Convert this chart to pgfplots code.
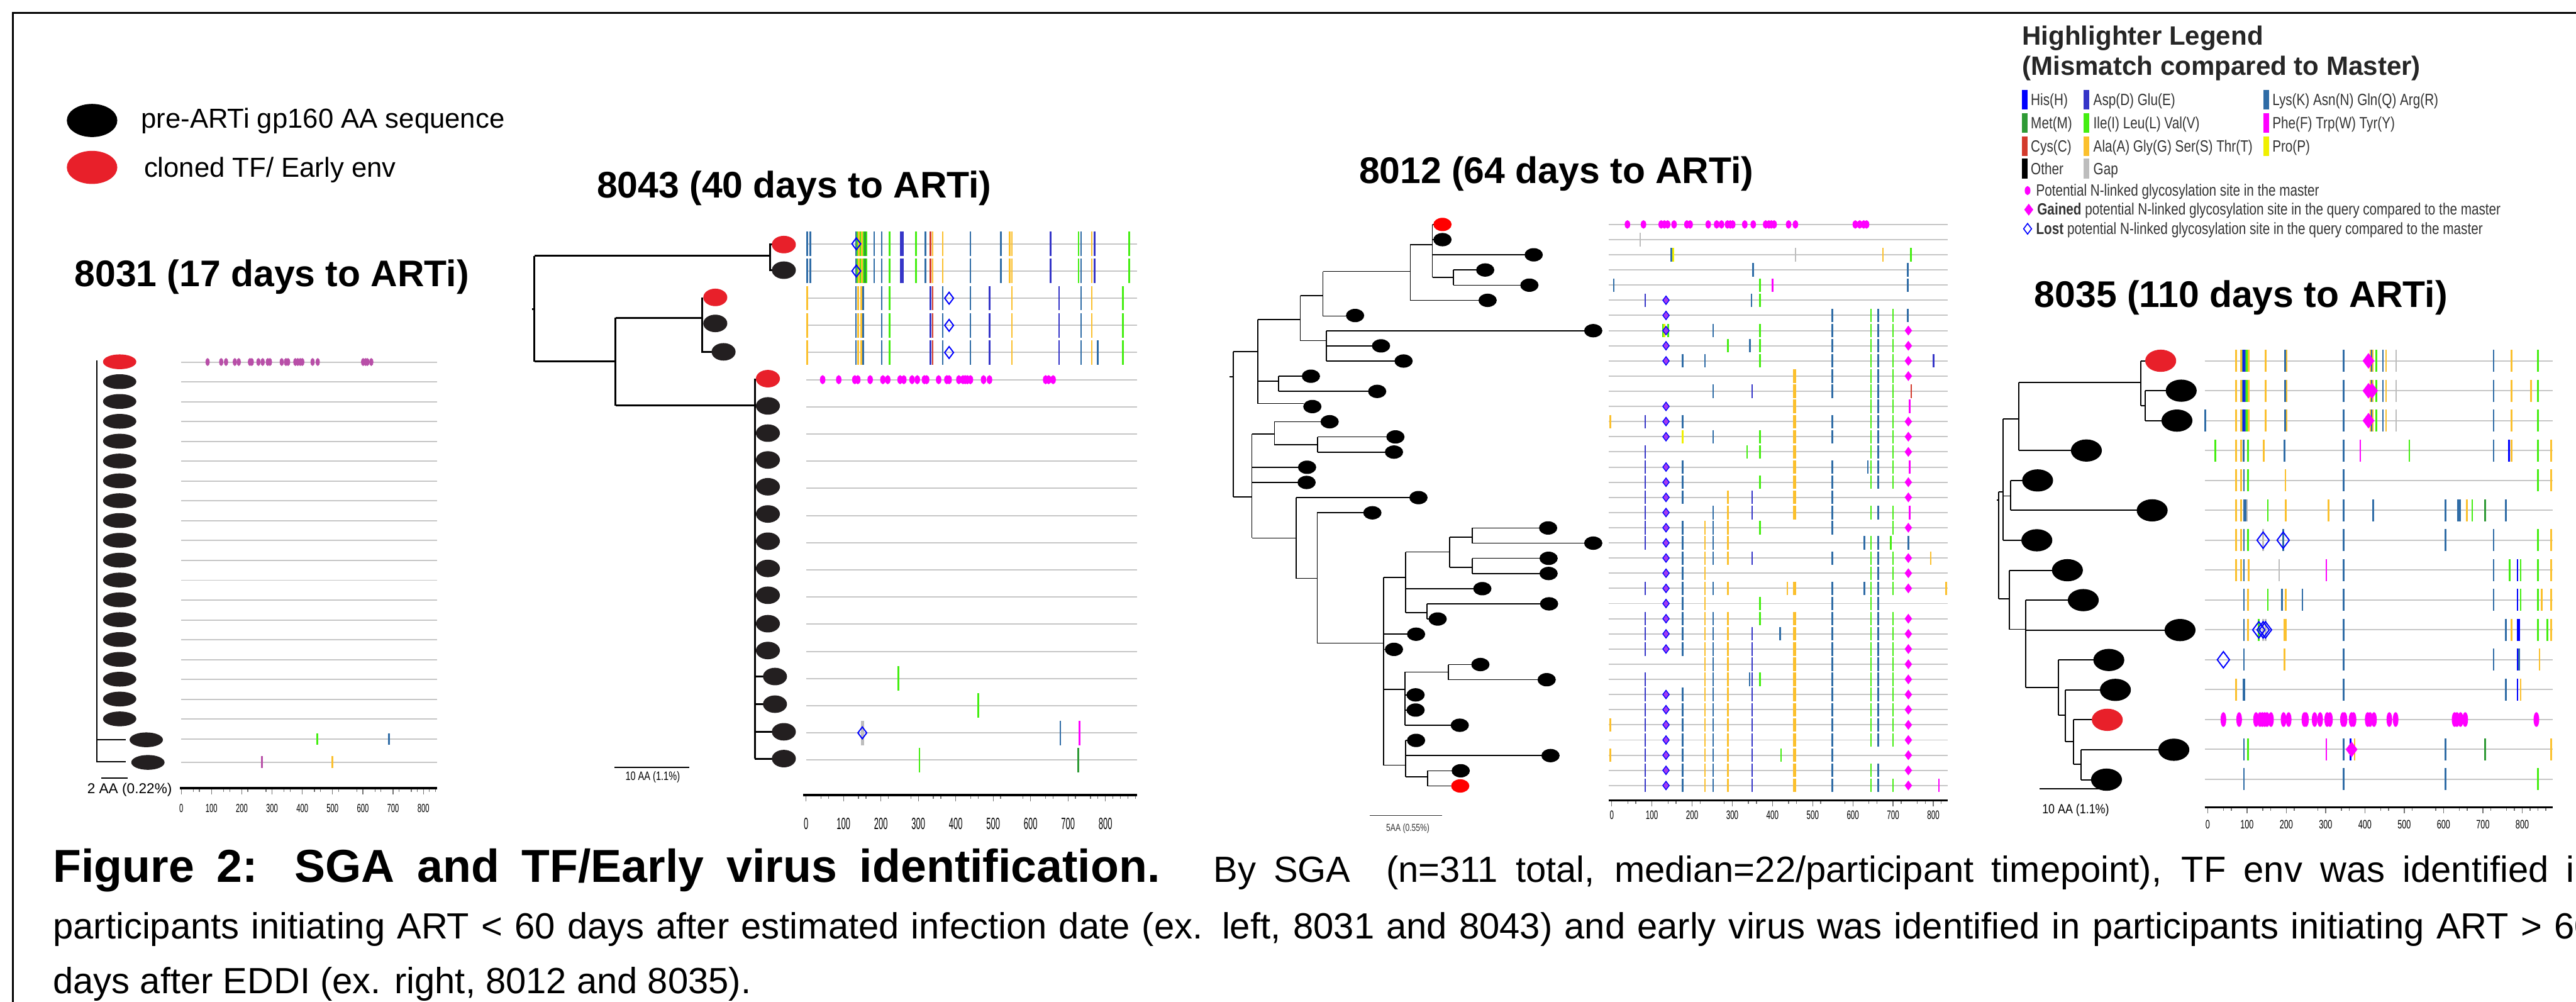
\documentclass[border=0pt]{standalone}
\usepackage{pgfplots}
\pgfplotsset{compat=1.18}
\usepackage{fontspec}
\setmainfont{Liberation Sans}
\usepackage{graphicx}
\definecolor{his}{HTML}{0000FF}
\definecolor{asp}{HTML}{3535C8}
\definecolor{lys}{HTML}{2F6CA6}
\definecolor{met}{HTML}{2E9A35}
\definecolor{ilv}{HTML}{44EE11}
\definecolor{fwy}{HTML}{FF00FF}
\definecolor{cys}{HTML}{D33A2C}
\definecolor{agst}{HTML}{FBC02D}
\definecolor{pro}{HTML}{F0F000}
\definecolor{gapc}{HTML}{BDBDBD}
\definecolor{seqgray}{HTML}{C6C6C6}
\definecolor{tfred}{HTML}{E8202A}
\definecolor{nodeblk}{HTML}{231F20}
\definecolor{glyc31}{HTML}{B84FA8}
\definecolor{dia}{HTML}{A23BF0}
\pgfplotsset{
 ov/.style={scale only axis, clip=false, hide axis, xmin=0, xmax=1568, ymin=0, ymax=1568, y dir=reverse, anchor=center},
 seq/.style={scale only axis, clip=false, anchor=center, y dir=reverse, axis line style={draw=none}, xtick=\empty, yticklabels={}, major tick length=0pt, minor tick length=0pt, ymajorgrids, grid style={draw=seqgray, line width=0.6pt}},
 tk/.style={scale only axis, clip=false, anchor=center, height=0.02cm, ymin=0, ymax=1, axis x line=bottom, axis y line=none, x axis line style={line width=1.2pt,-}, every outer x axis line/.append style={-}, every inner x axis line/.append style={-}, xtick={0,100,...,800}, minor xtick={40,60,140,160,220,280,340,360,440,460,520,580,640,660,720,760,780,820,840}, tick align=outside, major tick length=0.1cm, minor tick length=0.06cm, tick style={draw=black!55, line width=0.4pt}, ytick=\empty, /pgf/number format/assume math mode=true, xticklabel style={inner sep=0pt, anchor=north}},
 br/.style={black, line width=#1, unbounded coords=jump, mark=none, forget plot},
 myel/.style={only marks, mark=*, mark size=#1},
 mybar/.style={only marks, mark=|, mark size=#1, mark options={line width=0.8pt}},
}
\newcommand{\lgt}[1]{\scalebox{0.8}[1]{#1}}
\begin{document}
\begin{tikzpicture}
\clip (0,0) rectangle (44.48,17.29);
\fill[white] (0,0) rectangle (44.48,17.29);
% ===== main canvas (pixel coordinates) =====
\begin{axis}[scale only axis, clip=false, hide axis, at={(22.24cm,8.645cm)}, anchor=center, width=44.48cm, height=17.29cm, xmin=0, xmax=4448, ymin=0, ymax=1729, y dir=reverse]
\addplot[black, line width=0.85pt, mark=none] coordinates {(22,1740) (22,22) (4460,22)};
% top-left legend
\addplot[myel=12.2pt, mark options={yscale=0.65}, color=black] coordinates {(159,208)};
\addplot[myel=12.2pt, mark options={yscale=0.65}, color=tfred] coordinates {(159,289)};
\node[anchor=base west, inner sep=0pt, font=\fontsize{13.5}{16}\selectfont] at (axis cs:243,221) {pre-ARTi gp160 AA sequence};
\node[anchor=base west, inner sep=0pt, font=\fontsize{13.5}{16}\selectfont] at (axis cs:248,306) {cloned TF/ Early env};
% titles
\node[anchor=base west, inner sep=0pt, font=\fontsize{18.2}{22}\selectfont\bfseries] at (axis cs:128,495) {8031 (17 days to ARTi)};
\node[anchor=base west, inner sep=0pt, font=\fontsize{18.2}{22}\selectfont\bfseries] at (axis cs:1030,341) {8043 (40 days to ARTi)};
\node[anchor=base west, inner sep=0pt, font=\fontsize{18.2}{22}\selectfont\bfseries] at (axis cs:2346,317) {8012 (64 days to ARTi)};
\node[anchor=base west, inner sep=0pt, font=\fontsize{18.2}{22}\selectfont\bfseries] at (axis cs:3512,530) {8035 (110 days to ARTi)};
% highlighter legend
\node[anchor=base west, inner sep=0pt, font=\fontsize{13}{16}\selectfont\bfseries, text=black!85] at (axis cs:3491,78) {Highlighter Legend};
\node[anchor=base west, inner sep=0pt, font=\fontsize{13}{16}\selectfont\bfseries, text=black!85] at (axis cs:3491,130) {(Mismatch compared to Master)};
\addplot[mybar=4.8pt, mark options={line width=2.8pt}, color=his] coordinates {(3496,172)};
\addplot[mybar=4.8pt, mark options={line width=2.8pt}, color=met] coordinates {(3496,212)};
\addplot[mybar=4.8pt, mark options={line width=2.8pt}, color=cys] coordinates {(3496,252)};
\addplot[mybar=4.8pt, mark options={line width=2.8pt}, color=black] coordinates {(3496,291)};
\addplot[mybar=4.8pt, mark options={line width=2.8pt}, color=asp] coordinates {(3603,172)};
\addplot[mybar=4.8pt, mark options={line width=2.8pt}, color=ilv] coordinates {(3603,212)};
\addplot[mybar=4.8pt, mark options={line width=2.8pt}, color=agst] coordinates {(3603,252)};
\addplot[mybar=4.8pt, mark options={line width=2.8pt}, color=gapc] coordinates {(3603,291)};
\addplot[mybar=4.8pt, mark options={line width=2.8pt}, color=lys] coordinates {(3913,172)};
\addplot[mybar=4.8pt, mark options={line width=2.8pt}, color=fwy] coordinates {(3913,212)};
\addplot[mybar=4.8pt, mark options={line width=2.8pt}, color=pro] coordinates {(3913,252)};
\begin{scope}[every node/.style={anchor=base west, inner sep=0pt, font=\fontsize{8}{9}\selectfont, text=black!80}]
\node at (axis cs:3506,182) {\lgt{His(H)}};
\node at (axis cs:3506,222) {\lgt{Met(M)}};
\node at (axis cs:3506,262) {\lgt{Cys(C)}};
\node at (axis cs:3506,301) {\lgt{Other}};
\node at (axis cs:3614,182) {\lgt{Asp(D) Glu(E)}};
\node at (axis cs:3614,222) {\lgt{Ile(I) Leu(L) Val(V)}};
\node at (axis cs:3614,262) {\lgt{Ala(A) Gly(G) Ser(S) Thr(T)}};
\node at (axis cs:3614,301) {\lgt{Gap}};
\node at (axis cs:3923,182) {\lgt{Lys(K) Asn(N) Gln(Q) Arg(R)}};
\node at (axis cs:3923,222) {\lgt{Phe(F) Trp(W) Tyr(Y)}};
\node at (axis cs:3923,262) {\lgt{Pro(P)}};
\node at (axis cs:3515,338) {\lgt{Potential N-linked glycosylation site in the master}};
\node at (axis cs:3517,371) {\lgt{\textbf{Gained} potential N-linked glycosylation site in the query compared to the master}};
\node at (axis cs:3515,404) {\lgt{\textbf{Lost} potential N-linked glycosylation site in the query compared to the master}};
\end{scope}
\addplot[myel=2pt, mark options={xscale=0.6}, color=fwy] coordinates {(3501,329)};
\addplot[only marks, mark=diamond*, mark size=2.6pt, color=fwy] coordinates {(3503,362)};
\addplot[only marks, mark=diamond, mark size=2.6pt, color=his, mark options={line width=0.5pt}] coordinates {(3501,395)};
% scale bars
\addplot[black, line width=0.6pt, mark=none] coordinates {(175,1343) (221,1343)};
\node[anchor=base west, inner sep=0pt, font=\fontsize{7}{8}\selectfont] at (axis cs:150,1370) {2 AA (0.22\%)};
\addplot[black, line width=0.8pt, mark=none] coordinates {(1061,1325) (1190,1325)};
\node[anchor=center, inner sep=0pt, font=\fontsize{6}{7}\selectfont] at (axis cs:1127,1342) {\scalebox{0.75}[1]{10 AA (1.1\%)}};
\addplot[black!80, line width=0.4pt, mark=none] coordinates {(2365,1408) (2490,1408)};
\node[anchor=center, inner sep=0pt, font=\fontsize{5}{6}\selectfont, text=black!80] at (axis cs:2431,1430) {\scalebox{0.75}[1]{5AA (0.55\%)}};
\addplot[black, line width=0.6pt, mark=none] coordinates {(3522,1362) (3647,1362)};
\node[anchor=center, inner sep=0pt, font=\fontsize{6.5}{7}\selectfont] at (axis cs:3584,1399) {\scalebox{0.85}[1]{10 AA (1.1\%)}};
% caption
\node[anchor=base west, inner sep=0pt] at (axis cs:91,1523) {\makebox[43.89cm][s]{\fontsize{22.7}{27}\selectfont\bfseries Figure 2: SGA and TF/Early virus identification.\fontsize{17.9}{21}\selectfont\mdseries\ \ \ By SGA\ \ (n=311 total, median=22/participant timepoint), TF env was identified in}};
\node[anchor=base west, inner sep=0pt] at (axis cs:91,1621) {\makebox[43.89cm][s]{\fontsize{17.9}{21}\selectfont participants initiating ART < 60 days after estimated infection date (ex. left, 8031 and 8043) and early virus was identified in participants initiating ART > 60}};
\node[anchor=base west, inner sep=0pt, font=\fontsize{17.9}{21}\selectfont] at (axis cs:91,1715) {days after EDDI (ex. right, 8012 and 8035).};
\end{axis}
% ===== 8031 tree =====
\begin{axis}[ov, at={(4.50cm,7.29cm)}, width=9cm, height=9cm]
\addplot[br=0.7pt] coordinates {(292,125) (292,1335) (0,nan) (292,1267) (378,1267) (0,nan) (292,1333) (378,1333)};
\addplot[myel=7.97pt, mark options={yscale=0.43}, color=nodeblk] coordinates {(360,189.7) (360,249.3) (360,309.0) (360,368.7) (360,428.4) (360,488.0) (360,547.7) (360,607.4) (360,667.0) (360,726.7) (360,786.4) (360,846.0) (360,905.7) (360,965.4) (360,1025.1) (360,1084.7) (360,1144.4) (360,1204.1) (440,1267) (445,1335)};
\addplot[myel=7.97pt, mark options={yscale=0.43}, color=tfred] coordinates {(360,130)};
\end{axis}
\begin{axis}[seq, at={(5.34cm,7.531cm)}, width=4.42cm, height=7.703cm, xmin=0, xmax=846, ymin=-1, ymax=21.49, ytick={0,1,...,19,20.17}]
\addplot[myel=1.7pt, mark options={xscale=0.5}, color=glyc31] coordinates {(87,0) (132,0) (148,0) (177,0) (190,0) (227,0) (233,0) (255,0) (269,0) (286,0) (293,0) (332,0) (346,0) (353,0) (377,0) (385,0) (393,0) (400,0) (434,0) (451,0) (601,0) (609,0) (615,0) (628,0)};
\addplot[mybar=2.85pt, color=ilv] coordinates {(449,19)};
\addplot[mybar=2.85pt, color=lys] coordinates {(687,19)};
\addplot[mybar=2.85pt, color=glyc31] coordinates {(267,20.17)};
\addplot[mybar=2.85pt, color=agst] coordinates {(499,20.17)};
\end{axis}
\begin{axis}[tk, at={(5.327cm,3.69cm)}, width=4.447cm, xmin=-5, xmax=846, xticklabel={\scalebox{0.6}[1]{\pgfmathprintnumber{\tick}}}, xticklabel style={font=\fontsize{5.8}{6}\selectfont, yshift=-0.17cm}]
\addplot[draw=none] coordinates {(0,0)};
\end{axis}
% ===== 8043 =====
\begin{axis}[ov, at={(16.80cm,8.29cm)}, width=16cm, height=11cm]
\addplot[br=0.9pt] coordinates {(38,262) (42,262) (0,nan) (42,131) (42,391) (0,nan) (42,131) (441,131) (0,nan) (445,103) (441,103) (441,166) (445,166) (0,nan) (42,391) (179,391) (0,nan) (179,283) (179,499) (0,nan) (179,283) (326,283) (0,nan) (326,233) (326,367) (343,367) (0,nan) (179,499) (415,499) (0,nan) (415,433) (415,1368) (0,nan) (415,1166) (430,1166) (0,nan) (415,1234) (430,1234) (0,nan) (415,1302) (445,1302) (0,nan) (415,1368) (445,1368)};
\addplot[myel=5.69pt, mark options={yscale=0.72}, color=nodeblk] coordinates {(464,166) (348,297) (362,367) (437,500) (437,567) (437,633) (437,699) (437,766) (437,833) (437,900) (437,966) (437,1036) (437,1102) (449,1166) (449,1234) (464,1302) (464,1368)};
\addplot[myel=5.69pt, mark options={yscale=0.72}, color=tfred] coordinates {(464,103) (348,233) (437,433)};
\end{axis}
\begin{axis}[seq, at={(16.779cm,8.554cm)}, width=5.717cm, height=9.99cm, xmin=0, xmax=885, ymin=-1, ymax=20.3, ytick={0,1,...,19}]
\addplot[mybar=6pt, color=lys] coordinates {(3,0) (11,0) (133,0) (182,0) (202,0) (319,0) (439,0) (520,0) (735,0) (3,1) (11,1) (133,1) (182,1) (202,1) (319,1) (439,1) (520,1) (735,1) (133,2) (152,2) (202,2) (365,2) (439,2) (735,2) (133,3) (152,3) (202,3) (365,3) (439,3) (735,3) (133,4) (152,4) (202,4) (365,4) (439,4) (735,4) (779,4) (679,18)};
\addplot[mybar=6pt, color=ilv] coordinates {(137,0) (145,0) (153,0) (161,0) (223,0) (294,0) (728,0) (863,0) (137,1) (145,1) (153,1) (161,1) (223,1) (294,1) (728,1) (863,1) (223,2) (847,2) (223,3) (847,3) (223,4) (847,4) (246,16) (460,17) (303,19)};
\addplot[mybar=6pt, color=agst] coordinates {(141,0) (149,0) (338,0) (365,0) (544,0) (550,0) (763,0) (141,1) (149,1) (338,1) (365,1) (544,1) (550,1) (763,1) (3,2) (139,2) (147,2) (550,2) (763,2) (3,3) (139,3) (147,3) (550,3) (763,3) (3,4) (139,4) (147,4) (550,4) (763,4)};
\addplot[mybar=6pt, color=met] coordinates {(157,0) (157,1) (727,19)};
\addplot[mybar=6pt, color=asp] coordinates {(253,0) (258,0) (653,0) (771,0) (253,1) (258,1) (653,1) (771,1) (332,2) (490,2) (676,2) (332,3) (490,3) (676,3) (332,4) (490,4) (676,4)};
\addplot[mybar=6pt, color=cys] coordinates {(332,0) (332,1) (338,2) (338,3) (338,4)};
\addplot[mybar=6pt, color=fwy] coordinates {(731,18)};
\addplot[mybar=6pt, color=gapc, mark options={line width=1.6pt}] coordinates {(150,18)};
\addplot[only marks, mark=diamond, mark size=2.9pt, color=his, mark options={line width=0.6pt, fill=white}] coordinates {(134,0) (134,1) (382,2) (382,3) (382,4) (150,18)};
\addplot[myel=2pt, mark options={xscale=0.57}, color=fwy] coordinates {(44,5) (87,5) (130,5) (138,5) (171,5) (205,5) (218,5) (251,5) (261,5) (283,5) (297,5) (316,5) (322,5) (354,5) (376,5) (382,5) (408,5) (419,5) (425,5) (431,5) (439,5) (474,5) (490,5) (640,5) (648,5) (660,5)};
\end{axis}
\begin{axis}[tk, at={(16.752cm,3.57cm)}, width=5.769cm, xmin=-8, xmax=885, minor xtick={40,60,140,160,220,280,340,360,440,460,520,580,640,660,720,760,780,820,840,860,880}, xticklabel={\scalebox{0.5}[1]{\pgfmathprintnumber{\tick}}}, xticklabel style={font=\fontsize{8}{8}\selectfont, yshift=-0.28cm}]
\addplot[draw=none] coordinates {(0,0)};
\end{axis}
% ===== 8012 =====
\begin{axis}[ov, at={(26.30cm,8.49cm)}, width=13cm, height=13cm]
\addplot[br=0.5pt] coordinates {(172,507) (180,507) (0,nan) (180,455) (180,757) (0,nan) (180,455) (231,455) (0,nan) (231,388) (231,563) (0,nan) (231,388) (320,388) (0,nan) (320,338) (320,432) (0,nan) (320,338) (367,338) (0,nan) (367,288) (367,381) (0,nan) (367,381) (416,381) (0,nan) (367,288) (549,288) (0,nan) (549,232) (549,349) (0,nan) (549,232) (595,232) (0,nan) (595,190) (595,300) (0,nan) (595,190) (598,190) (0,nan) (595,221.6) (598,221.6) (0,nan) (595,253.2) (788,253.2) (0,nan) (595,300) (639,300) (0,nan) (639,284.8) (639,316.4) (0,nan) (639,284.8) (687,284.8) (0,nan) (639,316.4) (779,316.4) (0,nan) (549,348) (692,348) (0,nan) (320,432) (374,432) (0,nan) (374,411.2) (374,474.4) (0,nan) (374,411.2) (912,411.2) (0,nan) (374,442.8) (470,442.8) (0,nan) (374,474.4) (517,474.4) (0,nan) (231,516) (275,516) (0,nan) (275,506) (275,537.6) (0,nan) (275,506) (324,506) (0,nan) (275,537.6) (462,537.6) (0,nan) (231,563) (327,563) (0,nan) (180,757) (219,757) (0,nan) (219,626) (219,843) (0,nan) (219,626) (266,626) (0,nan) (266,600.8) (266,649) (0,nan) (266,600.8) (363,600.8) (0,nan) (266,649) (356,649) (0,nan) (356,632.4) (356,664) (0,nan) (356,632.4) (500,632.4) (0,nan) (356,664) (497,664) (0,nan) (219,695.6) (316,695.6) (0,nan) (219,727.2) (315,727.2) (0,nan) (219,843) (311,843) (0,nan) (311,758.8) (311,927) (0,nan) (311,758.8) (548,758.8) (0,nan) (311,927) (355,927) (0,nan) (355,790.4) (355,1062) (0,nan) (355,790.4) (452,790.4) (0,nan) (355,1062) (493,1062) (0,nan) (493,925) (493,1316) (0,nan) (493,925) (539,925) (0,nan) (539,872) (539,998) (0,nan) (539,872) (631,872) (0,nan) (631,841) (631,904) (0,nan) (631,841) (678,841) (0,nan) (678,822) (678,853.6) (0,nan) (678,822) (818,822) (0,nan) (678,853.6) (912,853.6) (0,nan) (631,904) (678,904) (0,nan) (678,885.2) (678,916.8) (0,nan) (678,885.2) (819,885.2) (0,nan) (678,916.8) (819,916.8) (0,nan) (539,948.4) (681,948.4) (0,nan) (539,998) (584,998) (0,nan) (584,980) (584,1011.6) (0,nan) (584,980) (820,980) (0,nan) (584,1011.6) (588,1011.6) (0,nan) (493,1043.2) (543,1043.2) (0,nan) (493,1074.8) (497,1074.8) (0,nan) (493,1158) (538,1158) (0,nan) (538,1122) (538,1232.8) (0,nan) (538,1122) (628,1122) (0,nan) (628,1106.4) (628,1138) (0,nan) (628,1106.4) (677,1106.4) (0,nan) (628,1138) (815,1138) (0,nan) (538,1169.6) (542,1169.6) (0,nan) (538,1201.2) (542,1201.2) (0,nan) (538,1232.8) (634,1232.8) (0,nan) (493,1316) (539,1316) (0,nan) (539,1264.4) (539,1340) (0,nan) (539,1264.4) (543,1264.4) (0,nan) (539,1296) (823,1296) (0,nan) (539,1340) (585,1340) (0,nan) (585,1327.6) (585,1359.2) (0,nan) (585,1327.6) (636,1327.6) (0,nan) (585,1359.2) (635,1359.2)};
\addplot[myel=4.27pt, mark options={yscale=0.72}, color=black] coordinates {(616,221.6) (806,253.2) (705,284.8) (797,316.4) (710,348) (434,379.6) (930,411.2) (488,442.8) (535,474.4) (342,506) (480,537.6) (345,569.2) (381,600.8) (518,632.4) (515,664) (334,695.6) (333,727.2) (566,758.8) (470,790.4) (836,822) (930,853.6) (837,885.2) (837,916.8) (699,948.4) (838,980) (606,1011.6) (561,1043.2) (515,1074.8) (695,1106.4) (833,1138) (560,1169.6) (560,1201.2) (652,1232.8) (561,1264.4) (841,1296) (654,1327.6)};
\addplot[myel=4.27pt, mark options={yscale=0.72}, color=red] coordinates {(616,190) (653,1359.2)};
\end{axis}
\begin{axis}[seq, at={(30.703cm,8.572cm)}, width=5.857cm, height=10.21cm, xmin=-8, xmax=836, ymin=-1, ymax=38, ytick={0,1,...,37}]
\addplot[mybar=3.3pt, color=gapc] coordinates {(71,1) (457,2)};
\addplot[mybar=3.3pt, color=pro] coordinates {(153,2) (176,14) (131,7)};
\addplot[mybar=3.3pt, color=fwy] coordinates {(400,4) (741,12) (741,16) (741,19) (814,37)};
\addplot[mybar=3.3pt, color=cys] coordinates {(745,11)};
\addplot[mybar=3.3pt, color=asp] coordinates {(83,5) (83,13) (83,15) (83,16) (83,17) (83,18) (83,19) (83,20) (83,21) (83,24) (83,26) (83,27) (83,28) (83,30) (83,31) (83,32) (83,33) (83,34) (83,35) (83,36) (83,37) (349,11) (349,18) (349,19) (349,22) (349,27) (349,28) (349,29) (349,30) (349,31) (349,32) (349,33) (349,34) (349,35) (349,36) (349,37) (801,9)};
\addplot[mybar=3.3pt, color=lys] coordinates {(148,2) (352,3) (737,3) (5,4) (737,4) (348,5) (549,6) (663,6) (737,6) (252,7) (549,7) (663,7) (344,8) (549,8) (663,8) (176,9) (232,9) (549,9) (663,9) (549,10) (663,10) (252,11) (549,11) (663,11) (663,12) (176,13) (549,13) (663,13) (252,14) (549,14) (663,14) (663,15) (176,16) (549,16) (637,16) (663,16) (176,17) (549,17) (663,17) (176,18) (549,18) (252,19) (549,19) (663,19) (176,20) (252,20) (549,20) (176,21) (252,21) (629,21) (663,21) (738,21) (176,22) (252,22) (549,22) (663,22) (176,23) (663,23) (176,24) (252,24) (549,24) (629,24) (663,24) (176,25) (549,25) (663,25) (176,26) (252,26) (549,26) (663,26) (176,27) (252,27) (419,27) (549,27) (663,27) (176,28) (252,28) (549,28) (663,28) (252,29) (549,29) (663,29) (252,30) (343,30) (549,30) (663,30) (176,31) (252,31) (549,31) (663,31) (176,32) (252,32) (549,32) (663,32) (176,33) (252,33) (549,33) (663,33) (176,34) (252,34) (549,34) (663,34) (176,35) (252,35) (549,35) (176,36) (252,36) (549,36) (663,36) (176,37) (252,37) (549,37) (663,37)};
\addplot[mybar=3.3pt, color=ilv] coordinates {(744,2) (369,4) (369,5) (645,6) (700,6) (127,7) (140,7) (369,7) (645,7) (700,7) (289,8) (369,8) (645,8) (700,8) (369,9) (645,9) (700,9) (645,10) (700,10) (645,11) (700,11) (645,12) (700,12) (645,13) (700,13) (369,14) (645,14) (700,14) (337,15) (369,15) (645,15) (700,15) (645,16) (700,16) (369,17) (645,17) (700,17) (645,19) (700,19) (369,20) (700,20) (645,21) (694,21) (645,22) (700,22) (645,23) (700,23) (645,24) (700,24) (369,25) (645,25) (369,26) (645,26) (700,26) (645,27) (700,27) (645,28) (700,28) (645,29) (700,29) (369,30) (645,30) (700,30) (645,31) (700,31) (645,32) (700,32) (645,33) (700,33) (645,34) (700,34) (421,35) (645,36) (645,37) (700,37)};
\addplot[mybar=3.3pt, color=agst] coordinates {(675,2) (-4,13) (289,18) (289,19) (232,20) (289,20) (232,21) (289,21) (232,22) (289,22) (794,22) (232,23) (232,24) (289,24) (437,24) (832,24) (232,25) (232,26) (289,26) (232,27) (289,27) (232,28) (289,28) (232,29) (289,29) (232,30) (289,30) (232,31) (289,31) (232,32) (289,32) (-4,33) (232,33) (289,33) (232,34) (289,34) (-4,35) (232,35) (289,35) (232,36) (289,36) (232,37) (289,37)};
\addplot[mybar=3.3pt, color=agst, mark options={line width=1.6pt}] coordinates {(455,10) (455,11) (455,12) (455,13) (455,14) (455,15) (455,16) (455,17) (455,18) (455,19) (455,24) (455,26) (455,27) (455,28) (455,29) (455,30) (455,31) (455,32) (455,33) (455,34) (455,35) (455,36) (455,37)};
\addplot[only marks, mark=diamond*, mark size=2.1pt, color=his, mark options={fill=dia, line width=0.4pt}] coordinates {(135,5) (135,6) (135,7) (135,8) (135,9) (135,12) (135,13) (135,14) (135,16) (135,17) (135,18) (135,19) (135,20) (135,21) (135,22) (135,23) (135,24) (135,25) (135,26) (135,27) (135,28) (135,31) (135,32) (135,33) (135,34) (135,35) (135,36) (135,37)};
\addplot[only marks, mark=diamond*, mark size=2.1pt, color=fwy] coordinates {(738,7) (738,8) (738,9) (738,10) (738,13) (738,14) (738,15) (738,17) (738,18) (738,20) (738,22) (738,23) (738,24) (738,26) (738,27) (738,28) (738,29) (738,30) (738,31) (738,32) (738,33) (738,34) (738,35) (738,36) (738,37)};
\addplot[myel=1.85pt, mark options={xscale=0.62}, color=fwy] coordinates {(39,0) (79,0) (123,0) (131,0) (139,0) (155,0) (187,0) (195,0) (240,0) (261,0) (273,0) (288,0) (295,0) (301,0) (331,0) (352,0) (383,0) (391,0) (397,0) (404,0) (440,0) (457,0) (606,0) (617,0) (627,0) (634,0)};
\end{axis}
\begin{axis}[tk, at={(30.703cm,3.48cm)}, width=5.857cm, xmin=-8, xmax=836, xticklabel={\scalebox{0.6}[1]{\pgfmathprintnumber{\tick}}}, xticklabel style={font=\fontsize{6}{6}\selectfont, yshift=-0.075cm}, x axis line style={line width=1pt}]
\addplot[draw=none] coordinates {(0,0)};
\end{axis}
% ===== 8035 =====
\begin{axis}[ov, at={(39.24cm,7.79cm)}, width=10.48cm, height=10cm]
\addplot[br=0.6pt] coordinates {(72,648) (76,648) (0,nan) (76,626) (76,916) (0,nan) (76,626) (88,626) (0,nan) (88,428) (88,757) (0,nan) (88,428) (129,428) (0,nan) (129,330) (129,514) (0,nan) (129,330) (444,330) (0,nan) (444,271) (444,392) (0,nan) (444,271) (456,271) (0,nan) (444,392) (455,392) (0,nan) (455,352) (455,433) (0,nan) (455,352) (509,352) (0,nan) (455,433) (498,433) (0,nan) (129,514) (264,514) (0,nan) (88,637) (108,637) (0,nan) (108,595) (108,676) (0,nan) (108,595) (138,595) (0,nan) (108,676) (434,676) (0,nan) (88,757) (136,757) (0,nan) (76,916) (104,916) (0,nan) (104,838) (104,998) (0,nan) (104,838) (215,838) (0,nan) (104,998) (146,998) (0,nan) (146,919) (146,1156) (0,nan) (146,919) (256,919) (0,nan) (146,1000) (506,1000) (0,nan) (146,1156) (230,1156) (0,nan) (230,1081) (230,1231) (0,nan) (230,1081) (322,1081) (0,nan) (230,1231) (248,1231) (0,nan) (248,1162) (248,1302) (0,nan) (248,1162) (339,1162) (0,nan) (248,1302) (270,1302) (0,nan) (270,1243) (270,1364) (0,nan) (270,1243) (318,1243) (0,nan) (270,1364) (290,1364) (0,nan) (290,1324) (290,1405) (0,nan) (290,1324) (490,1324) (0,nan) (290,1405) (316,1405)};
\addplot[myel=7.4pt, mark options={yscale=0.71}, color=black] coordinates {(548,352) (537,433) (303,514) (177,595) (473,676) (175,757) (254,838) (295,919) (545,1000) (361,1081) (378,1162) (529,1324) (355,1405)};
\addplot[myel=7.4pt, mark options={yscale=0.71}, color=tfred] coordinates {(495,271) (357,1243)};
\end{axis}
\begin{axis}[seq, at={(41.073cm,7.463cm)}, width=6.002cm, height=8.225cm, xmin=-7, xmax=877, ymin=-1, ymax=14.94, ytick={0,1,...,14}]
\addplot[mybar=5.4pt, color=gapc] coordinates {(479,0) (479,1) (479,2) (100,5) (141,6) (182,7) (141,9) (147,9)};
\addplot[mybar=5.4pt, color=agst] coordinates {(72,0) (85,0) (104,0) (147,0) (200,0) (414,0) (420,0) (454,0) (773,0) (72,1) (85,1) (104,1) (147,1) (200,1) (414,1) (420,1) (454,1) (773,1) (822,1) (72,2) (85,2) (104,2) (147,2) (200,2) (414,2) (420,2) (454,2) (773,2) (72,3) (85,3) (143,3) (773,3) (874,3) (72,4) (85,4) (198,4) (874,4) (72,5) (85,5) (199,5) (307,5) (659,5) (72,6) (85,6) (874,6) (72,7) (85,7) (104,7) (874,7) (103,8) (199,8) (850,8) (874,8) (103,9) (195,9) (199,9) (773,9) (874,9) (195,10) (844,10) (72,11) (796,11) (374,13) (874,13)};
\addplot[mybar=5.4pt, color=lys] coordinates {(89,0) (95,0) (197,0) (346,0) (417,0) (446,0) (727,0) (89,1) (95,1) (197,1) (346,1) (417,1) (446,1) (727,1) (-6,2) (89,2) (95,2) (197,2) (346,2) (417,2) (446,2) (727,2) (91,3) (195,3) (346,3) (727,3) (92,4) (346,4) (92,5) (96,5) (346,5) (421,5) (605,5) (637,5) (642,5) (758,5) (92,6) (192,6) (346,6) (605,6) (727,6) (92,7) (346,7) (727,7) (92,8) (189,8) (241,8) (346,8) (727,8) (92,9) (346,9) (758,9) (92,10) (346,10) (727,10) (792,10) (91,11) (93,11) (346,11) (758,11) (92,13) (346,13) (605,13) (92,14) (346,14) (605,14)};
\addplot[mybar=5.4pt, color=his] coordinates {(92,0) (92,1) (92,2) (766,3) (788,7) (788,8) (788,9) (792,9) (788,10) (788,11) (363,13)};
\addplot[mybar=5.4pt, color=ilv] coordinates {(99,0) (429,0) (840,0) (99,1) (429,1) (840,1) (99,2) (429,2) (840,2) (19,3) (103,3) (513,3) (840,3) (103,4) (840,4) (153,5) (673,5) (103,6) (840,6) (768,7) (796,7) (840,7) (153,8) (796,8) (840,8) (130,9) (840,9) (864,9) (103,13) (840,14)};
\addplot[mybar=5.4pt, color=fwy] coordinates {(388,3) (302,7) (302,13)};
\addplot[mybar=5.4pt, color=met] coordinates {(706,5) (706,13)};
\addplot[only marks, mark=diamond*, mark size=3.5pt, color=fwy] coordinates {(409,0) (409,1) (418,1) (409,2) (366,13)};
\addplot[only marks, mark=diamond, mark size=4pt, color=his, mark options={line width=0.6pt, fill=white}] coordinates {(141,6) (192,6) (130,9) (141,9) (147,9) (40,10)};
\addplot[myel=3.4pt, mark options={xscale=0.35}, color=fwy] coordinates {(40,12) (80,12) (123,12) (133,12) (139,12) (145,12) (151,12) (161,12) (193,12) (206,12) (246,12) (250,12) (272,12) (286,12) (304,12) (311,12) (344,12) (348,12) (366,12) (371,12) (407,12) (413,12) (423,12) (462,12) (478,12) (628,12) (634,12) (643,12) (655,12) (836,12)};
\end{axis}
\begin{axis}[tk, at={(41.073cm,3.36cm)}, width=6.002cm, xmin=-7, xmax=877, minor xtick={40,60,140,160,220,280,340,360,440,460,520,580,640,660,720,760,780,820,840,860}, xticklabel={\scalebox{0.65}[1]{\pgfmathprintnumber{\tick}}}, xticklabel style={font=\fontsize{6}{6}\selectfont, yshift=-0.115cm}, x axis line style={line width=0.9pt}]
\addplot[draw=none] coordinates {(0,0)};
\end{axis}
\end{tikzpicture}
\end{document}
